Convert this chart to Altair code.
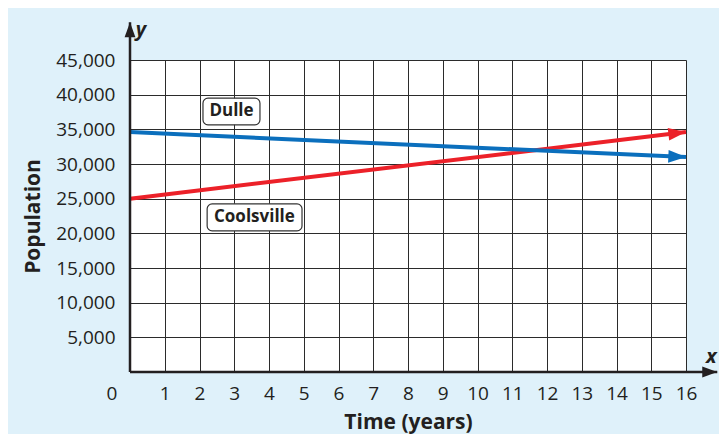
import math
import altair as alt
import pandas as pd

# ---- data ----
city_names = ["Coolsville", "Dulle"]
city_colors = ["#ec2129", "#0b6fbd"]
start_years = [0, 0]
end_years = [16, 16]
start_pops = [25000, 34600]
end_pops = [34600, 31000]

label_x = [3.58, 2.92]          # label centres (years)
label_y = [22300, 37600]        # label centres (population)
box_x1 = [2.22, 2.1]
box_x2 = [4.95, 3.74]
box_y1 = [20350, 35650]
box_y2 = [24250, 39500]

x_ticks = list(range(1, 17))
y_ticks = [5000, 10000, 15000, 20000, 25000, 30000, 35000, 40000, 45000]

X_MAX, Y_MAX = 16, 45000
W, H = 556, 312
FONT = "Open Sans"
INK = "#231f20"

xs = alt.Scale(domain=[0, X_MAX], nice=False, zero=False)
ys = alt.Scale(domain=[0, Y_MAX], nice=False, zero=False)

x_axis_def = alt.Axis(values=x_ticks, title="Time (years)", grid=True,
                      domain=False, ticks=False, labelPadding=12,
                      labelFontSize=19, labelFont=FONT, labelColor=INK,
                      labelOverlap=False, labelBound=False, labelFlush=False,
                      titleFont=FONT, titleFontSize=21, titleFontWeight="bold",
                      titleColor=INK, titlePadding=8,
                      gridColor="#2b2b2b", gridWidth=1, gridOpacity=1)
y_axis_def = alt.Axis(values=y_ticks, title="Population", format=",d", grid=True,
                      domain=False, ticks=False, labelPadding=15,
                      labelFontSize=19, labelFont=FONT, labelColor=INK,
                      labelOverlap=False, labelBound=False, labelFlush=False,
                      titleFont=FONT, titleFontSize=21, titleFontWeight="bold",
                      titleColor=INK, titlePadding=12,
                      gridColor="#2b2b2b", gridWidth=1, gridOpacity=1)


def X():
    return alt.X("x:Q", scale=xs, axis=x_axis_def)


def Y():
    return alt.Y("y:Q", scale=ys, axis=y_axis_def)


# line table
rows = []
for n, c, x0, x1, y0, y1 in zip(city_names, city_colors, start_years, end_years, start_pops, end_pops):
    rows.append({"city": n, "x": x0, "y": y0, "color": c})
    rows.append({"city": n, "x": x1, "y": y1, "color": c})
lines_df = pd.DataFrame(rows)

heads = []
for n, c, x0, x1, y0, y1 in zip(city_names, city_colors, start_years, end_years, start_pops, end_pops):
    dx = (x1 - x0) / X_MAX * W
    dy = (y1 - y0) / Y_MAX * H
    ang = -math.degrees(math.atan2(dy, dx)) % 360
    heads.append({"city": n, "x": x1, "y": y1, "color": c, "angle": ang})
heads_df = pd.DataFrame(heads)

text_df = pd.DataFrame({"name": city_names, "x": label_x, "y": label_y})
box_df = pd.DataFrame({"name": city_names, "x": box_x1, "x2": box_x2, "y": box_y1, "y2": box_y2})

lines = alt.Chart(lines_df).mark_line(strokeWidth=4, strokeCap="butt").encode(
    x=X(), y=Y(), color=alt.Color("color:N", scale=None), detail="city:N")

arrow_path = "M0,0 L-1,-0.36 L-1,0.36 Z"
arrowheads = alt.Chart(heads_df).mark_point(
    shape=arrow_path, filled=True, opacity=1, size=1250, strokeWidth=0).encode(
    x=X(), y=Y(), color=alt.Color("color:N", scale=None),
    angle=alt.Angle("angle:Q", scale=None))

# axes with arrows
AX_X_END, AX_Y_END = 16.9, 50450
axis_df = pd.DataFrame({"x": [0], "y": [0], "x2": [AX_X_END], "y2": [AX_Y_END]})
x_axis = alt.Chart(axis_df).mark_rule(color=INK, strokeWidth=2.5).encode(
    x=X(), x2="x2:Q", y=Y())
y_axis = alt.Chart(axis_df).mark_rule(color=INK, strokeWidth=2.5).encode(
    x=X(), y=Y(), y2="y2:Q")
ax_heads_df = pd.DataFrame({"x": [AX_X_END, 0], "y": [0, AX_Y_END], "angle": [0, 270]})
ax_heads = alt.Chart(ax_heads_df).mark_point(
    shape=arrow_path, filled=True, opacity=1, size=900, color=INK, strokeWidth=0).encode(
    x=X(), y=Y(), angle=alt.Angle("angle:Q", scale=None))

x_letter = alt.Chart(pd.DataFrame({"x": [AX_X_END], "y": [0]})).mark_text(
    text="x", font=FONT, fontSize=20, fontStyle="italic", fontWeight="bold", color=INK,
    dx=-6, dy=-15).encode(x=X(), y=Y())
y_letter = alt.Chart(pd.DataFrame({"x": [0], "y": [AX_Y_END]})).mark_text(
    text="y", font=FONT, fontSize=20, fontStyle="italic", fontWeight="bold", color=INK,
    dx=11, dy=8).encode(x=X(), y=Y())

origin = alt.Chart(pd.DataFrame({"x": [0], "y": [0]})).mark_text(
    text="0", font=FONT, fontSize=19, color=INK, dx=-18, dy=22).encode(x=X(), y=Y())

boxes = alt.Chart(box_df).mark_rect(
    fill="white", stroke="#333333", strokeWidth=1.2, cornerRadius=5).encode(
    x=X(), x2="x2:Q", y=Y(), y2="y2:Q")
texts = alt.Chart(text_df).mark_text(
    font=FONT, fontSize=17, fontWeight="bold", color=INK).encode(
    x=X(), y=Y(), text="name:N")

chart = alt.layer(
    lines, arrowheads, x_axis, y_axis, ax_heads, x_letter, y_letter, origin, boxes, texts
).properties(
    width=W, height=H,
    autosize=alt.AutoSizeParams(type="none"),
    padding={"left": 122, "top": 52, "right": 33, "bottom": 62},
    background="#dff1fa",
).configure_view(fill="white", stroke=None).configure_axis(labelOverlap=False)

chart.save("out.html", embed_options={"renderer": "svg", "actions": False})
